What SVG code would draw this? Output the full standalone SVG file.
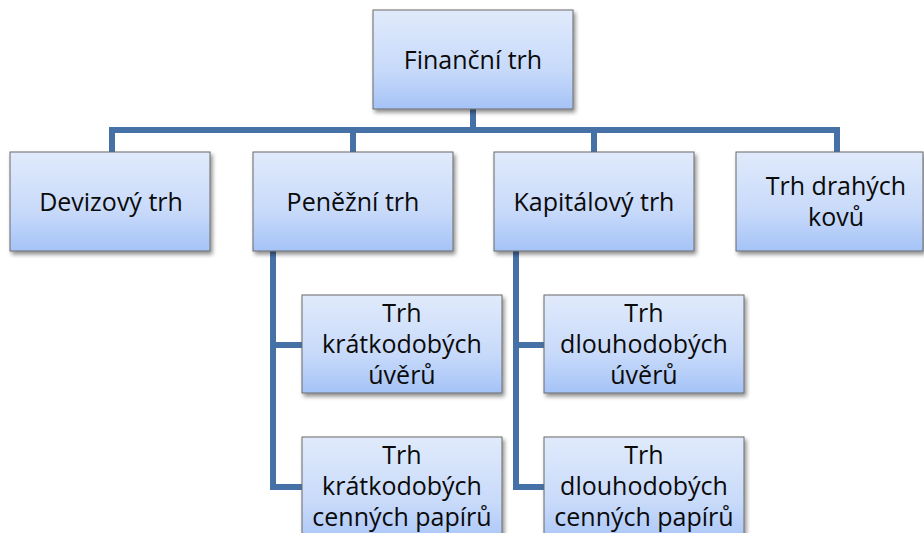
<svg xmlns="http://www.w3.org/2000/svg" width="924" height="533" viewBox="0 0 924 533">
<defs>
<linearGradient id="g" x1="0" y1="0" x2="0" y2="1">
<stop offset="0" stop-color="#e0eafb"/>
<stop offset="0.6" stop-color="#c8dafa"/>
<stop offset="1" stop-color="#a5c3f7"/>
</linearGradient>
<filter id="sh" x="-10%" y="-10%" width="130%" height="130%">
<feGaussianBlur in="SourceAlpha" stdDeviation="2"/>
<feOffset dx="2" dy="3"/>
<feComponentTransfer><feFuncA type="linear" slope="0.45"/></feComponentTransfer>
<feMerge><feMergeNode/><feMergeNode in="SourceGraphic"/></feMerge>
</filter>
</defs>
<style>
.box{fill:url(#g);stroke:#6b6b6b;stroke-width:1;filter:url(#sh)}
.t{font-family:"Open Sans","Liberation Sans",sans-serif;font-size:25px;fill:#0a0a0a;text-anchor:middle}
.c{fill:none;stroke:#4671a6;stroke-width:6}
</style>
<rect width="924" height="533" fill="#fff"/>
<g id="connectors">
<path class="c" d="M473 109V130M112 152V130H837V152M353 130V152M594 130V152"/>
<path class="c" d="M273 251V487H302M273 345H302"/>
<path class="c" d="M516 251V487H544M516 345H544"/>
</g>
<g id="financni"><rect class="box" x="373" y="10" width="200" height="99"/><text class="t" x="473" y="69">Finanční trh</text></g>
<g id="devizovy"><rect class="box" x="10" y="152" width="200" height="99"/><text class="t" x="111" y="211">Devizový trh</text></g>
<g id="penezni"><rect class="box" x="253" y="152" width="200" height="99"/><text class="t" x="353" y="211">Peněžní trh</text></g>
<g id="kapitalovy"><rect class="box" x="494" y="152" width="200" height="99"/><text class="t" x="594" y="211">Kapitálový trh</text></g>
<g id="drahe"><rect class="box" x="736" y="152" width="187" height="99"/><text class="t" x="836" y="195">Trh drahých</text><text class="t" x="836" y="226">kovů</text></g>
<g id="kratk-uvery"><rect class="box" x="302" y="295" width="200" height="98"/><text class="t" x="402" y="322">Trh</text><text class="t" x="402" y="353">krátkodobých</text><text class="t" x="402" y="384">úvěrů</text></g>
<g id="kratk-papiry"><rect class="box" x="302" y="437" width="200" height="110"/><text class="t" x="402" y="464">Trh</text><text class="t" x="402" y="495">krátkodobých</text><text class="t" x="402" y="526">cenných papírů</text></g>
<g id="dlouh-uvery"><rect class="box" x="544" y="295" width="200" height="98"/><text class="t" x="644" y="322">Trh</text><text class="t" x="644" y="353">dlouhodobých</text><text class="t" x="644" y="384">úvěrů</text></g>
<g id="dlouh-papiry"><rect class="box" x="544" y="437" width="200" height="110"/><text class="t" x="644" y="464">Trh</text><text class="t" x="644" y="495">dlouhodobých</text><text class="t" x="644" y="526">cenných papírů</text></g>
</svg>
